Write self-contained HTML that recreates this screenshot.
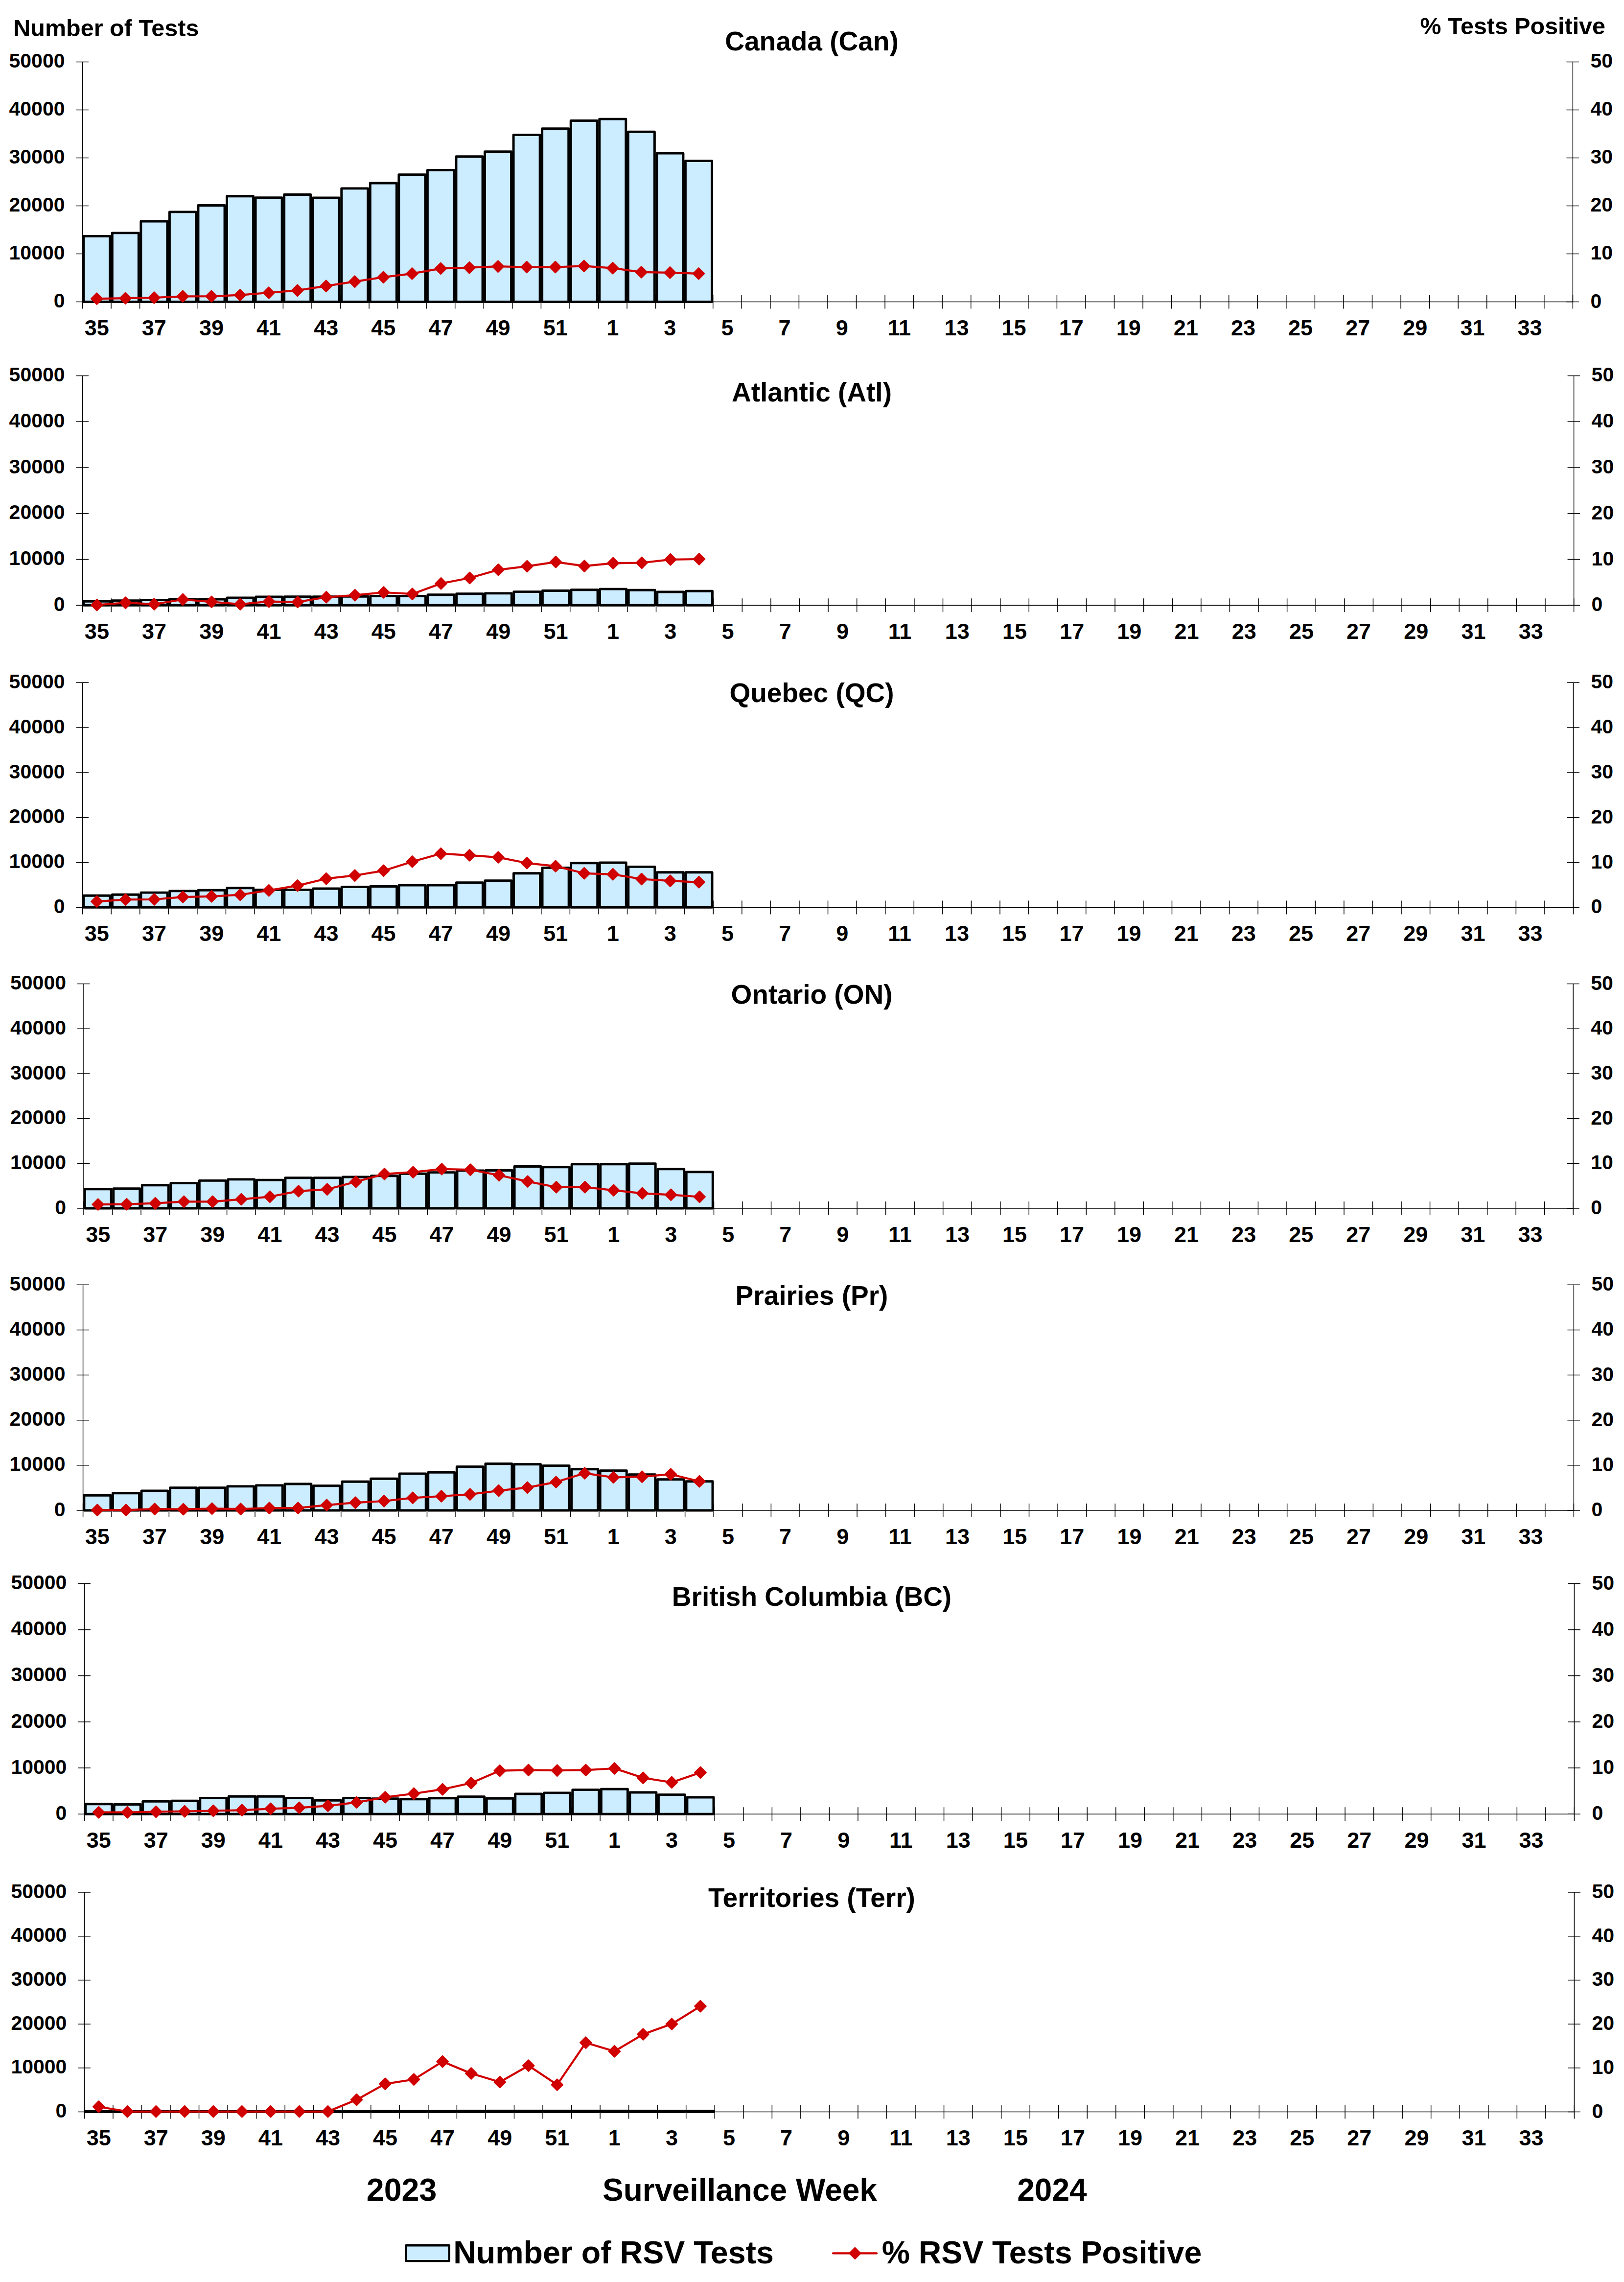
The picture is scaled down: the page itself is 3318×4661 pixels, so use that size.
<!DOCTYPE html>
<html><head><meta charset="utf-8"><title>RSV Tests by Region</title>
<style>
html,body{margin:0;padding:0;background:#fff;width:3318px;height:4661px;overflow:hidden}
svg text{font-family:"Liberation Sans", Arial, sans-serif;fill:#000}
</style></head><body>
<svg width="3318" height="4661" viewBox="0 0 3318 4661" style="display:block">
<rect width="3318" height="4661" fill="#fff"/>
<text x="27.3" y="73.8" font-size="48.5" font-weight="bold">Number of Tests</text>
<text x="2901.6" y="69.9" font-size="48.4" font-weight="bold">% Tests Positive</text>
<g><text x="1658.5" y="103.2" font-size="55" font-weight="bold" text-anchor="middle">Canada (Can)</text><path d="M168.5 126.4V616.5M3213.4 126.4V616.5M168.5 616.5H3213.4" stroke="#000" stroke-width="1.5" fill="none"/><path d="M155.5 616.5H181M3200.4 616.5H3225.9M155.5 518.48H181M3200.4 518.48H3225.9M155.5 420.46H181M3200.4 420.46H3225.9M155.5 322.44H181M3200.4 322.44H3225.9M155.5 224.42H181M3200.4 224.42H3225.9M155.5 126.4H181M3200.4 126.4H3225.9M168.5 602.5V630.5M227.06 602.5V630.5M285.61 602.5V630.5M344.17 602.5V630.5M402.72 602.5V630.5M461.28 602.5V630.5M519.83 602.5V630.5M578.39 602.5V630.5M636.95 602.5V630.5M695.5 602.5V630.5M754.06 602.5V630.5M812.61 602.5V630.5M871.17 602.5V630.5M929.73 602.5V630.5M988.28 602.5V630.5M1046.84 602.5V630.5M1105.39 602.5V630.5M1163.95 602.5V630.5M1222.5 602.5V630.5M1281.06 602.5V630.5M1339.62 602.5V630.5M1398.17 602.5V630.5M1456.73 602.5V630.5M1515.28 602.5V630.5M1573.84 602.5V630.5M1632.39 602.5V630.5M1690.95 602.5V630.5M1749.51 602.5V630.5M1808.06 602.5V630.5M1866.62 602.5V630.5M1925.17 602.5V630.5M1983.73 602.5V630.5M2042.28 602.5V630.5M2100.84 602.5V630.5M2159.4 602.5V630.5M2217.95 602.5V630.5M2276.51 602.5V630.5M2335.06 602.5V630.5M2393.62 602.5V630.5M2452.17 602.5V630.5M2510.73 602.5V630.5M2569.29 602.5V630.5M2627.84 602.5V630.5M2686.4 602.5V630.5M2744.95 602.5V630.5M2803.51 602.5V630.5M2862.07 602.5V630.5M2920.62 602.5V630.5M2979.18 602.5V630.5M3037.73 602.5V630.5M3096.29 602.5V630.5M3154.84 602.5V630.5M3213.4 602.5V630.5" stroke="#000" stroke-width="1.5" fill="none"/><text x="132.5" y="628.1" font-size="41" font-weight="bold" text-anchor="end">0</text><text x="3249.4" y="628.5" font-size="41" font-weight="bold">0</text><text x="132.5" y="530.08" font-size="41" font-weight="bold" text-anchor="end">10000</text><text x="3249.4" y="530.48" font-size="41" font-weight="bold">10</text><text x="132.5" y="432.06" font-size="41" font-weight="bold" text-anchor="end">20000</text><text x="3249.4" y="432.46" font-size="41" font-weight="bold">20</text><text x="132.5" y="334.04" font-size="41" font-weight="bold" text-anchor="end">30000</text><text x="3249.4" y="334.44" font-size="41" font-weight="bold">30</text><text x="132.5" y="236.02" font-size="41" font-weight="bold" text-anchor="end">40000</text><text x="3249.4" y="236.42" font-size="41" font-weight="bold">40</text><text x="132.5" y="138" font-size="41" font-weight="bold" text-anchor="end">50000</text><text x="3249.4" y="138.4" font-size="41" font-weight="bold">50</text><text x="197.78" y="685.3" font-size="45" font-weight="bold" text-anchor="middle">35</text><text x="314.89" y="685.3" font-size="45" font-weight="bold" text-anchor="middle">37</text><text x="432" y="685.3" font-size="45" font-weight="bold" text-anchor="middle">39</text><text x="549.11" y="685.3" font-size="45" font-weight="bold" text-anchor="middle">41</text><text x="666.22" y="685.3" font-size="45" font-weight="bold" text-anchor="middle">43</text><text x="783.34" y="685.3" font-size="45" font-weight="bold" text-anchor="middle">45</text><text x="900.45" y="685.3" font-size="45" font-weight="bold" text-anchor="middle">47</text><text x="1017.56" y="685.3" font-size="45" font-weight="bold" text-anchor="middle">49</text><text x="1134.67" y="685.3" font-size="45" font-weight="bold" text-anchor="middle">51</text><text x="1251.78" y="685.3" font-size="45" font-weight="bold" text-anchor="middle">1</text><text x="1368.89" y="685.3" font-size="45" font-weight="bold" text-anchor="middle">3</text><text x="1486" y="685.3" font-size="45" font-weight="bold" text-anchor="middle">5</text><text x="1603.12" y="685.3" font-size="45" font-weight="bold" text-anchor="middle">7</text><text x="1720.23" y="685.3" font-size="45" font-weight="bold" text-anchor="middle">9</text><text x="1837.34" y="685.3" font-size="45" font-weight="bold" text-anchor="middle">11</text><text x="1954.45" y="685.3" font-size="45" font-weight="bold" text-anchor="middle">13</text><text x="2071.56" y="685.3" font-size="45" font-weight="bold" text-anchor="middle">15</text><text x="2188.67" y="685.3" font-size="45" font-weight="bold" text-anchor="middle">17</text><text x="2305.79" y="685.3" font-size="45" font-weight="bold" text-anchor="middle">19</text><text x="2422.9" y="685.3" font-size="45" font-weight="bold" text-anchor="middle">21</text><text x="2540.01" y="685.3" font-size="45" font-weight="bold" text-anchor="middle">23</text><text x="2657.12" y="685.3" font-size="45" font-weight="bold" text-anchor="middle">25</text><text x="2774.23" y="685.3" font-size="45" font-weight="bold" text-anchor="middle">27</text><text x="2891.34" y="685.3" font-size="45" font-weight="bold" text-anchor="middle">29</text><text x="3008.45" y="685.3" font-size="45" font-weight="bold" text-anchor="middle">31</text><text x="3125.57" y="685.3" font-size="45" font-weight="bold" text-anchor="middle">33</text><rect x="170.75" y="482.4" width="54.06" height="134.1" fill="#CCECFF" stroke="#000" stroke-width="4.9" stroke-linejoin="round"/><rect x="229.31" y="475.9" width="54.06" height="140.6" fill="#CCECFF" stroke="#000" stroke-width="4.9" stroke-linejoin="round"/><rect x="287.86" y="452" width="54.06" height="164.5" fill="#CCECFF" stroke="#000" stroke-width="4.9" stroke-linejoin="round"/><rect x="346.42" y="432.9" width="54.06" height="183.6" fill="#CCECFF" stroke="#000" stroke-width="4.9" stroke-linejoin="round"/><rect x="404.97" y="419.5" width="54.06" height="197" fill="#CCECFF" stroke="#000" stroke-width="4.9" stroke-linejoin="round"/><rect x="463.53" y="400.8" width="54.06" height="215.7" fill="#CCECFF" stroke="#000" stroke-width="4.9" stroke-linejoin="round"/><rect x="522.08" y="403.6" width="54.06" height="212.9" fill="#CCECFF" stroke="#000" stroke-width="4.9" stroke-linejoin="round"/><rect x="580.64" y="397.5" width="54.06" height="219" fill="#CCECFF" stroke="#000" stroke-width="4.9" stroke-linejoin="round"/><rect x="639.2" y="404" width="54.06" height="212.5" fill="#CCECFF" stroke="#000" stroke-width="4.9" stroke-linejoin="round"/><rect x="697.75" y="384.9" width="54.06" height="231.6" fill="#CCECFF" stroke="#000" stroke-width="4.9" stroke-linejoin="round"/><rect x="756.31" y="374" width="54.06" height="242.5" fill="#CCECFF" stroke="#000" stroke-width="4.9" stroke-linejoin="round"/><rect x="814.86" y="356.6" width="54.06" height="259.9" fill="#CCECFF" stroke="#000" stroke-width="4.9" stroke-linejoin="round"/><rect x="873.42" y="347.4" width="54.06" height="269.1" fill="#CCECFF" stroke="#000" stroke-width="4.9" stroke-linejoin="round"/><rect x="931.98" y="319.8" width="54.06" height="296.7" fill="#CCECFF" stroke="#000" stroke-width="4.9" stroke-linejoin="round"/><rect x="990.53" y="309.7" width="54.06" height="306.8" fill="#CCECFF" stroke="#000" stroke-width="4.9" stroke-linejoin="round"/><rect x="1049.09" y="275.4" width="54.06" height="341.1" fill="#CCECFF" stroke="#000" stroke-width="4.9" stroke-linejoin="round"/><rect x="1107.64" y="262.8" width="54.06" height="353.7" fill="#CCECFF" stroke="#000" stroke-width="4.9" stroke-linejoin="round"/><rect x="1166.2" y="246.5" width="54.06" height="370" fill="#CCECFF" stroke="#000" stroke-width="4.9" stroke-linejoin="round"/><rect x="1224.75" y="243.1" width="54.06" height="373.4" fill="#CCECFF" stroke="#000" stroke-width="4.9" stroke-linejoin="round"/><rect x="1283.31" y="269.1" width="54.06" height="347.4" fill="#CCECFF" stroke="#000" stroke-width="4.9" stroke-linejoin="round"/><rect x="1341.87" y="313.1" width="54.06" height="303.4" fill="#CCECFF" stroke="#000" stroke-width="4.9" stroke-linejoin="round"/><rect x="1400.42" y="328.6" width="54.06" height="287.9" fill="#CCECFF" stroke="#000" stroke-width="4.9" stroke-linejoin="round"/><polyline points="197.78,610.1 256.33,609.1 314.89,608 373.45,605.3 432,605.1 490.56,602.6 549.11,598 607.67,593.2 666.22,584.2 724.78,575.2 783.34,566.2 841.89,558.9 900.45,548.4 959,546.7 1017.56,544.2 1076.11,545.5 1134.67,545.5 1193.23,543.4 1251.78,547.6 1310.34,555.9 1368.89,556.8 1427.45,558.9" fill="none" stroke="#D00000" stroke-width="4.2" stroke-linejoin="round"/><path d="M197.78 598.5L209.38 610.1L197.78 621.7L186.18 610.1ZM256.33 597.5L267.93 609.1L256.33 620.7L244.73 609.1ZM314.89 596.4L326.49 608L314.89 619.6L303.29 608ZM373.45 593.7L385.05 605.3L373.45 616.9L361.85 605.3ZM432 593.5L443.6 605.1L432 616.7L420.4 605.1ZM490.56 591L502.16 602.6L490.56 614.2L478.96 602.6ZM549.11 586.4L560.71 598L549.11 609.6L537.51 598ZM607.67 581.6L619.27 593.2L607.67 604.8L596.07 593.2ZM666.22 572.6L677.82 584.2L666.22 595.8L654.62 584.2ZM724.78 563.6L736.38 575.2L724.78 586.8L713.18 575.2ZM783.34 554.6L794.94 566.2L783.34 577.8L771.74 566.2ZM841.89 547.3L853.49 558.9L841.89 570.5L830.29 558.9ZM900.45 536.8L912.05 548.4L900.45 560L888.85 548.4ZM959 535.1L970.6 546.7L959 558.3L947.4 546.7ZM1017.56 532.6L1029.16 544.2L1017.56 555.8L1005.96 544.2ZM1076.11 533.9L1087.71 545.5L1076.11 557.1L1064.51 545.5ZM1134.67 533.9L1146.27 545.5L1134.67 557.1L1123.07 545.5ZM1193.23 531.8L1204.83 543.4L1193.23 555L1181.63 543.4ZM1251.78 536L1263.38 547.6L1251.78 559.2L1240.18 547.6ZM1310.34 544.3L1321.94 555.9L1310.34 567.5L1298.74 555.9ZM1368.89 545.2L1380.49 556.8L1368.89 568.4L1357.29 556.8ZM1427.45 547.3L1439.05 558.9L1427.45 570.5L1415.85 558.9Z" fill="#D00000" stroke="#D00000" stroke-width="2.4" stroke-linejoin="round"/></g>
<g><text x="1658.5" y="820.3" font-size="55" font-weight="bold" text-anchor="middle">Atlantic (Atl)</text><path d="M168.6 767.4V1236.3M3215.6 767.4V1236.3M168.6 1236.3H3215.6" stroke="#000" stroke-width="1.5" fill="none"/><path d="M155.6 1236.3H181.1M3202.6 1236.3H3228.1M155.6 1142.52H181.1M3202.6 1142.52H3228.1M155.6 1048.74H181.1M3202.6 1048.74H3228.1M155.6 954.96H181.1M3202.6 954.96H3228.1M155.6 861.18H181.1M3202.6 861.18H3228.1M155.6 767.4H181.1M3202.6 767.4H3228.1M168.6 1222.3V1250.3M227.2 1222.3V1250.3M285.79 1222.3V1250.3M344.39 1222.3V1250.3M402.98 1222.3V1250.3M461.58 1222.3V1250.3M520.18 1222.3V1250.3M578.77 1222.3V1250.3M637.37 1222.3V1250.3M695.97 1222.3V1250.3M754.56 1222.3V1250.3M813.16 1222.3V1250.3M871.75 1222.3V1250.3M930.35 1222.3V1250.3M988.95 1222.3V1250.3M1047.54 1222.3V1250.3M1106.14 1222.3V1250.3M1164.73 1222.3V1250.3M1223.33 1222.3V1250.3M1281.93 1222.3V1250.3M1340.52 1222.3V1250.3M1399.12 1222.3V1250.3M1457.72 1222.3V1250.3M1516.31 1222.3V1250.3M1574.91 1222.3V1250.3M1633.5 1222.3V1250.3M1692.1 1222.3V1250.3M1750.7 1222.3V1250.3M1809.29 1222.3V1250.3M1867.89 1222.3V1250.3M1926.48 1222.3V1250.3M1985.08 1222.3V1250.3M2043.68 1222.3V1250.3M2102.27 1222.3V1250.3M2160.87 1222.3V1250.3M2219.47 1222.3V1250.3M2278.06 1222.3V1250.3M2336.66 1222.3V1250.3M2395.25 1222.3V1250.3M2453.85 1222.3V1250.3M2512.45 1222.3V1250.3M2571.04 1222.3V1250.3M2629.64 1222.3V1250.3M2688.23 1222.3V1250.3M2746.83 1222.3V1250.3M2805.43 1222.3V1250.3M2864.02 1222.3V1250.3M2922.62 1222.3V1250.3M2981.22 1222.3V1250.3M3039.81 1222.3V1250.3M3098.41 1222.3V1250.3M3157 1222.3V1250.3M3215.6 1222.3V1250.3" stroke="#000" stroke-width="1.5" fill="none"/><text x="132.6" y="1247.9" font-size="41" font-weight="bold" text-anchor="end">0</text><text x="3251.6" y="1248.3" font-size="41" font-weight="bold">0</text><text x="132.6" y="1154.12" font-size="41" font-weight="bold" text-anchor="end">10000</text><text x="3251.6" y="1154.52" font-size="41" font-weight="bold">10</text><text x="132.6" y="1060.34" font-size="41" font-weight="bold" text-anchor="end">20000</text><text x="3251.6" y="1060.74" font-size="41" font-weight="bold">20</text><text x="132.6" y="966.56" font-size="41" font-weight="bold" text-anchor="end">30000</text><text x="3251.6" y="966.96" font-size="41" font-weight="bold">30</text><text x="132.6" y="872.78" font-size="41" font-weight="bold" text-anchor="end">40000</text><text x="3251.6" y="873.18" font-size="41" font-weight="bold">40</text><text x="132.6" y="779" font-size="41" font-weight="bold" text-anchor="end">50000</text><text x="3251.6" y="779.4" font-size="41" font-weight="bold">50</text><text x="197.9" y="1305.1" font-size="45" font-weight="bold" text-anchor="middle">35</text><text x="315.09" y="1305.1" font-size="45" font-weight="bold" text-anchor="middle">37</text><text x="432.28" y="1305.1" font-size="45" font-weight="bold" text-anchor="middle">39</text><text x="549.48" y="1305.1" font-size="45" font-weight="bold" text-anchor="middle">41</text><text x="666.67" y="1305.1" font-size="45" font-weight="bold" text-anchor="middle">43</text><text x="783.86" y="1305.1" font-size="45" font-weight="bold" text-anchor="middle">45</text><text x="901.05" y="1305.1" font-size="45" font-weight="bold" text-anchor="middle">47</text><text x="1018.24" y="1305.1" font-size="45" font-weight="bold" text-anchor="middle">49</text><text x="1135.44" y="1305.1" font-size="45" font-weight="bold" text-anchor="middle">51</text><text x="1252.63" y="1305.1" font-size="45" font-weight="bold" text-anchor="middle">1</text><text x="1369.82" y="1305.1" font-size="45" font-weight="bold" text-anchor="middle">3</text><text x="1487.01" y="1305.1" font-size="45" font-weight="bold" text-anchor="middle">5</text><text x="1604.21" y="1305.1" font-size="45" font-weight="bold" text-anchor="middle">7</text><text x="1721.4" y="1305.1" font-size="45" font-weight="bold" text-anchor="middle">9</text><text x="1838.59" y="1305.1" font-size="45" font-weight="bold" text-anchor="middle">11</text><text x="1955.78" y="1305.1" font-size="45" font-weight="bold" text-anchor="middle">13</text><text x="2072.97" y="1305.1" font-size="45" font-weight="bold" text-anchor="middle">15</text><text x="2190.17" y="1305.1" font-size="45" font-weight="bold" text-anchor="middle">17</text><text x="2307.36" y="1305.1" font-size="45" font-weight="bold" text-anchor="middle">19</text><text x="2424.55" y="1305.1" font-size="45" font-weight="bold" text-anchor="middle">21</text><text x="2541.74" y="1305.1" font-size="45" font-weight="bold" text-anchor="middle">23</text><text x="2658.94" y="1305.1" font-size="45" font-weight="bold" text-anchor="middle">25</text><text x="2776.13" y="1305.1" font-size="45" font-weight="bold" text-anchor="middle">27</text><text x="2893.32" y="1305.1" font-size="45" font-weight="bold" text-anchor="middle">29</text><text x="3010.51" y="1305.1" font-size="45" font-weight="bold" text-anchor="middle">31</text><text x="3127.71" y="1305.1" font-size="45" font-weight="bold" text-anchor="middle">33</text><rect x="170.85" y="1228.3" width="54.1" height="8" fill="#CCECFF" stroke="#000" stroke-width="4.9" stroke-linejoin="round"/><rect x="229.45" y="1226.6" width="54.1" height="9.7" fill="#CCECFF" stroke="#000" stroke-width="4.9" stroke-linejoin="round"/><rect x="288.04" y="1225.6" width="54.1" height="10.7" fill="#CCECFF" stroke="#000" stroke-width="4.9" stroke-linejoin="round"/><rect x="346.64" y="1223.9" width="54.1" height="12.4" fill="#CCECFF" stroke="#000" stroke-width="4.9" stroke-linejoin="round"/><rect x="405.23" y="1224.1" width="54.1" height="12.2" fill="#CCECFF" stroke="#000" stroke-width="4.9" stroke-linejoin="round"/><rect x="463.83" y="1221" width="54.1" height="15.3" fill="#CCECFF" stroke="#000" stroke-width="4.9" stroke-linejoin="round"/><rect x="522.43" y="1219" width="54.1" height="17.3" fill="#CCECFF" stroke="#000" stroke-width="4.9" stroke-linejoin="round"/><rect x="581.02" y="1218.6" width="54.1" height="17.7" fill="#CCECFF" stroke="#000" stroke-width="4.9" stroke-linejoin="round"/><rect x="639.62" y="1218.6" width="54.1" height="17.7" fill="#CCECFF" stroke="#000" stroke-width="4.9" stroke-linejoin="round"/><rect x="698.22" y="1218.2" width="54.1" height="18.1" fill="#CCECFF" stroke="#000" stroke-width="4.9" stroke-linejoin="round"/><rect x="756.81" y="1217.4" width="54.1" height="18.9" fill="#CCECFF" stroke="#000" stroke-width="4.9" stroke-linejoin="round"/><rect x="815.41" y="1217.4" width="54.1" height="18.9" fill="#CCECFF" stroke="#000" stroke-width="4.9" stroke-linejoin="round"/><rect x="874" y="1214.8" width="54.1" height="21.5" fill="#CCECFF" stroke="#000" stroke-width="4.9" stroke-linejoin="round"/><rect x="932.6" y="1212.7" width="54.1" height="23.6" fill="#CCECFF" stroke="#000" stroke-width="4.9" stroke-linejoin="round"/><rect x="991.2" y="1211.9" width="54.1" height="24.4" fill="#CCECFF" stroke="#000" stroke-width="4.9" stroke-linejoin="round"/><rect x="1049.79" y="1208.6" width="54.1" height="27.7" fill="#CCECFF" stroke="#000" stroke-width="4.9" stroke-linejoin="round"/><rect x="1108.39" y="1206.5" width="54.1" height="29.8" fill="#CCECFF" stroke="#000" stroke-width="4.9" stroke-linejoin="round"/><rect x="1166.98" y="1204.8" width="54.1" height="31.5" fill="#CCECFF" stroke="#000" stroke-width="4.9" stroke-linejoin="round"/><rect x="1225.58" y="1203.1" width="54.1" height="33.2" fill="#CCECFF" stroke="#000" stroke-width="4.9" stroke-linejoin="round"/><rect x="1284.18" y="1205.2" width="54.1" height="31.1" fill="#CCECFF" stroke="#000" stroke-width="4.9" stroke-linejoin="round"/><rect x="1342.77" y="1209" width="54.1" height="27.3" fill="#CCECFF" stroke="#000" stroke-width="4.9" stroke-linejoin="round"/><rect x="1401.37" y="1207.3" width="54.1" height="29" fill="#CCECFF" stroke="#000" stroke-width="4.9" stroke-linejoin="round"/><polyline points="197.9,1235.6 256.49,1231.2 315.09,1234 373.69,1224.5 432.28,1229.4 490.88,1234 549.48,1228.7 608.07,1229.6 666.67,1219.8 725.26,1215.7 783.86,1210 842.46,1213.2 901.05,1191.8 959.65,1180.5 1018.24,1163.8 1076.84,1156.6 1135.44,1147.8 1194.03,1156.2 1252.63,1150.4 1311.22,1149.5 1369.82,1142.8 1428.42,1142" fill="none" stroke="#D00000" stroke-width="4.2" stroke-linejoin="round"/><path d="M197.9 1224L209.5 1235.6L197.9 1247.2L186.3 1235.6ZM256.49 1219.6L268.09 1231.2L256.49 1242.8L244.89 1231.2ZM315.09 1222.4L326.69 1234L315.09 1245.6L303.49 1234ZM373.69 1212.9L385.29 1224.5L373.69 1236.1L362.09 1224.5ZM432.28 1217.8L443.88 1229.4L432.28 1241L420.68 1229.4ZM490.88 1222.4L502.48 1234L490.88 1245.6L479.28 1234ZM549.48 1217.1L561.08 1228.7L549.48 1240.3L537.88 1228.7ZM608.07 1218L619.67 1229.6L608.07 1241.2L596.47 1229.6ZM666.67 1208.2L678.27 1219.8L666.67 1231.4L655.07 1219.8ZM725.26 1204.1L736.86 1215.7L725.26 1227.3L713.66 1215.7ZM783.86 1198.4L795.46 1210L783.86 1221.6L772.26 1210ZM842.46 1201.6L854.06 1213.2L842.46 1224.8L830.86 1213.2ZM901.05 1180.2L912.65 1191.8L901.05 1203.4L889.45 1191.8ZM959.65 1168.9L971.25 1180.5L959.65 1192.1L948.05 1180.5ZM1018.24 1152.2L1029.84 1163.8L1018.24 1175.4L1006.64 1163.8ZM1076.84 1145L1088.44 1156.6L1076.84 1168.2L1065.24 1156.6ZM1135.44 1136.2L1147.04 1147.8L1135.44 1159.4L1123.84 1147.8ZM1194.03 1144.6L1205.63 1156.2L1194.03 1167.8L1182.43 1156.2ZM1252.63 1138.8L1264.23 1150.4L1252.63 1162L1241.03 1150.4ZM1311.22 1137.9L1322.82 1149.5L1311.22 1161.1L1299.62 1149.5ZM1369.82 1131.2L1381.42 1142.8L1369.82 1154.4L1358.22 1142.8ZM1428.42 1130.4L1440.02 1142L1428.42 1153.6L1416.82 1142Z" fill="#D00000" stroke="#D00000" stroke-width="2.4" stroke-linejoin="round"/></g>
<g><text x="1658.5" y="1434.2" font-size="55" font-weight="bold" text-anchor="middle">Quebec (QC)</text><path d="M168.6 1394.3V1853.4M3214.5 1394.3V1853.4M168.6 1853.4H3214.5" stroke="#000" stroke-width="1.5" fill="none"/><path d="M155.6 1853.4H181.1M3201.5 1853.4H3227M155.6 1761.58H181.1M3201.5 1761.58H3227M155.6 1669.76H181.1M3201.5 1669.76H3227M155.6 1577.94H181.1M3201.5 1577.94H3227M155.6 1486.12H181.1M3201.5 1486.12H3227M155.6 1394.3H181.1M3201.5 1394.3H3227M168.6 1839.4V1867.4M227.18 1839.4V1867.4M285.75 1839.4V1867.4M344.33 1839.4V1867.4M402.9 1839.4V1867.4M461.48 1839.4V1867.4M520.05 1839.4V1867.4M578.62 1839.4V1867.4M637.2 1839.4V1867.4M695.78 1839.4V1867.4M754.35 1839.4V1867.4M812.93 1839.4V1867.4M871.5 1839.4V1867.4M930.08 1839.4V1867.4M988.65 1839.4V1867.4M1047.22 1839.4V1867.4M1105.8 1839.4V1867.4M1164.38 1839.4V1867.4M1222.95 1839.4V1867.4M1281.52 1839.4V1867.4M1340.1 1839.4V1867.4M1398.67 1839.4V1867.4M1457.25 1839.4V1867.4M1515.83 1839.4V1867.4M1574.4 1839.4V1867.4M1632.97 1839.4V1867.4M1691.55 1839.4V1867.4M1750.12 1839.4V1867.4M1808.7 1839.4V1867.4M1867.28 1839.4V1867.4M1925.85 1839.4V1867.4M1984.42 1839.4V1867.4M2043 1839.4V1867.4M2101.58 1839.4V1867.4M2160.15 1839.4V1867.4M2218.72 1839.4V1867.4M2277.3 1839.4V1867.4M2335.88 1839.4V1867.4M2394.45 1839.4V1867.4M2453.03 1839.4V1867.4M2511.6 1839.4V1867.4M2570.18 1839.4V1867.4M2628.75 1839.4V1867.4M2687.32 1839.4V1867.4M2745.9 1839.4V1867.4M2804.47 1839.4V1867.4M2863.05 1839.4V1867.4M2921.62 1839.4V1867.4M2980.2 1839.4V1867.4M3038.78 1839.4V1867.4M3097.35 1839.4V1867.4M3155.93 1839.4V1867.4M3214.5 1839.4V1867.4" stroke="#000" stroke-width="1.5" fill="none"/><text x="132.6" y="1865" font-size="41" font-weight="bold" text-anchor="end">0</text><text x="3250.5" y="1865.4" font-size="41" font-weight="bold">0</text><text x="132.6" y="1773.18" font-size="41" font-weight="bold" text-anchor="end">10000</text><text x="3250.5" y="1773.58" font-size="41" font-weight="bold">10</text><text x="132.6" y="1681.36" font-size="41" font-weight="bold" text-anchor="end">20000</text><text x="3250.5" y="1681.76" font-size="41" font-weight="bold">20</text><text x="132.6" y="1589.54" font-size="41" font-weight="bold" text-anchor="end">30000</text><text x="3250.5" y="1589.94" font-size="41" font-weight="bold">30</text><text x="132.6" y="1497.72" font-size="41" font-weight="bold" text-anchor="end">40000</text><text x="3250.5" y="1498.12" font-size="41" font-weight="bold">40</text><text x="132.6" y="1405.9" font-size="41" font-weight="bold" text-anchor="end">50000</text><text x="3250.5" y="1406.3" font-size="41" font-weight="bold">50</text><text x="197.89" y="1922.2" font-size="45" font-weight="bold" text-anchor="middle">35</text><text x="315.04" y="1922.2" font-size="45" font-weight="bold" text-anchor="middle">37</text><text x="432.19" y="1922.2" font-size="45" font-weight="bold" text-anchor="middle">39</text><text x="549.34" y="1922.2" font-size="45" font-weight="bold" text-anchor="middle">41</text><text x="666.49" y="1922.2" font-size="45" font-weight="bold" text-anchor="middle">43</text><text x="783.64" y="1922.2" font-size="45" font-weight="bold" text-anchor="middle">45</text><text x="900.79" y="1922.2" font-size="45" font-weight="bold" text-anchor="middle">47</text><text x="1017.94" y="1922.2" font-size="45" font-weight="bold" text-anchor="middle">49</text><text x="1135.09" y="1922.2" font-size="45" font-weight="bold" text-anchor="middle">51</text><text x="1252.24" y="1922.2" font-size="45" font-weight="bold" text-anchor="middle">1</text><text x="1369.39" y="1922.2" font-size="45" font-weight="bold" text-anchor="middle">3</text><text x="1486.54" y="1922.2" font-size="45" font-weight="bold" text-anchor="middle">5</text><text x="1603.69" y="1922.2" font-size="45" font-weight="bold" text-anchor="middle">7</text><text x="1720.84" y="1922.2" font-size="45" font-weight="bold" text-anchor="middle">9</text><text x="1837.99" y="1922.2" font-size="45" font-weight="bold" text-anchor="middle">11</text><text x="1955.14" y="1922.2" font-size="45" font-weight="bold" text-anchor="middle">13</text><text x="2072.29" y="1922.2" font-size="45" font-weight="bold" text-anchor="middle">15</text><text x="2189.44" y="1922.2" font-size="45" font-weight="bold" text-anchor="middle">17</text><text x="2306.59" y="1922.2" font-size="45" font-weight="bold" text-anchor="middle">19</text><text x="2423.74" y="1922.2" font-size="45" font-weight="bold" text-anchor="middle">21</text><text x="2540.89" y="1922.2" font-size="45" font-weight="bold" text-anchor="middle">23</text><text x="2658.04" y="1922.2" font-size="45" font-weight="bold" text-anchor="middle">25</text><text x="2775.19" y="1922.2" font-size="45" font-weight="bold" text-anchor="middle">27</text><text x="2892.34" y="1922.2" font-size="45" font-weight="bold" text-anchor="middle">29</text><text x="3009.49" y="1922.2" font-size="45" font-weight="bold" text-anchor="middle">31</text><text x="3126.64" y="1922.2" font-size="45" font-weight="bold" text-anchor="middle">33</text><rect x="170.85" y="1829.2" width="54.08" height="24.2" fill="#CCECFF" stroke="#000" stroke-width="4.9" stroke-linejoin="round"/><rect x="229.43" y="1827.2" width="54.07" height="26.2" fill="#CCECFF" stroke="#000" stroke-width="4.9" stroke-linejoin="round"/><rect x="288" y="1823.1" width="54.08" height="30.3" fill="#CCECFF" stroke="#000" stroke-width="4.9" stroke-linejoin="round"/><rect x="346.58" y="1819.9" width="54.07" height="33.5" fill="#CCECFF" stroke="#000" stroke-width="4.9" stroke-linejoin="round"/><rect x="405.15" y="1818.3" width="54.08" height="35.1" fill="#CCECFF" stroke="#000" stroke-width="4.9" stroke-linejoin="round"/><rect x="463.73" y="1813.8" width="54.08" height="39.6" fill="#CCECFF" stroke="#000" stroke-width="4.9" stroke-linejoin="round"/><rect x="522.3" y="1817.4" width="54.07" height="36" fill="#CCECFF" stroke="#000" stroke-width="4.9" stroke-linejoin="round"/><rect x="580.88" y="1817.4" width="54.08" height="36" fill="#CCECFF" stroke="#000" stroke-width="4.9" stroke-linejoin="round"/><rect x="639.45" y="1815" width="54.08" height="38.4" fill="#CCECFF" stroke="#000" stroke-width="4.9" stroke-linejoin="round"/><rect x="698.03" y="1811.4" width="54.07" height="42" fill="#CCECFF" stroke="#000" stroke-width="4.9" stroke-linejoin="round"/><rect x="756.6" y="1810.5" width="54.08" height="42.9" fill="#CCECFF" stroke="#000" stroke-width="4.9" stroke-linejoin="round"/><rect x="815.18" y="1808" width="54.08" height="45.4" fill="#CCECFF" stroke="#000" stroke-width="4.9" stroke-linejoin="round"/><rect x="873.75" y="1808" width="54.07" height="45.4" fill="#CCECFF" stroke="#000" stroke-width="4.9" stroke-linejoin="round"/><rect x="932.33" y="1802.6" width="54.08" height="50.8" fill="#CCECFF" stroke="#000" stroke-width="4.9" stroke-linejoin="round"/><rect x="990.9" y="1798.8" width="54.07" height="54.6" fill="#CCECFF" stroke="#000" stroke-width="4.9" stroke-linejoin="round"/><rect x="1049.47" y="1783.8" width="54.08" height="69.6" fill="#CCECFF" stroke="#000" stroke-width="4.9" stroke-linejoin="round"/><rect x="1108.05" y="1772.4" width="54.08" height="81" fill="#CCECFF" stroke="#000" stroke-width="4.9" stroke-linejoin="round"/><rect x="1166.62" y="1762.8" width="54.08" height="90.6" fill="#CCECFF" stroke="#000" stroke-width="4.9" stroke-linejoin="round"/><rect x="1225.2" y="1762" width="54.07" height="91.4" fill="#CCECFF" stroke="#000" stroke-width="4.9" stroke-linejoin="round"/><rect x="1283.77" y="1770.4" width="54.08" height="83" fill="#CCECFF" stroke="#000" stroke-width="4.9" stroke-linejoin="round"/><rect x="1342.35" y="1781.7" width="54.08" height="71.7" fill="#CCECFF" stroke="#000" stroke-width="4.9" stroke-linejoin="round"/><rect x="1400.92" y="1781.7" width="54.08" height="71.7" fill="#CCECFF" stroke="#000" stroke-width="4.9" stroke-linejoin="round"/><polyline points="197.89,1841.4 256.46,1837.4 315.04,1837 373.61,1832.1 432.19,1830.9 490.76,1827.6 549.34,1818.7 607.91,1808.9 666.49,1794.7 725.06,1788.2 783.64,1778.4 842.21,1759.9 900.79,1743.6 959.36,1746.9 1017.94,1751.1 1076.51,1762.8 1135.09,1769.1 1193.66,1783.8 1252.24,1785.8 1310.81,1795.5 1369.39,1799.2 1427.96,1801.8" fill="none" stroke="#D00000" stroke-width="4.2" stroke-linejoin="round"/><path d="M197.89 1829.8L209.49 1841.4L197.89 1853L186.29 1841.4ZM256.46 1825.8L268.06 1837.4L256.46 1849L244.86 1837.4ZM315.04 1825.4L326.64 1837L315.04 1848.6L303.44 1837ZM373.61 1820.5L385.21 1832.1L373.61 1843.7L362.01 1832.1ZM432.19 1819.3L443.79 1830.9L432.19 1842.5L420.59 1830.9ZM490.76 1816L502.36 1827.6L490.76 1839.2L479.16 1827.6ZM549.34 1807.1L560.94 1818.7L549.34 1830.3L537.74 1818.7ZM607.91 1797.3L619.51 1808.9L607.91 1820.5L596.31 1808.9ZM666.49 1783.1L678.09 1794.7L666.49 1806.3L654.89 1794.7ZM725.06 1776.6L736.66 1788.2L725.06 1799.8L713.46 1788.2ZM783.64 1766.8L795.24 1778.4L783.64 1790L772.04 1778.4ZM842.21 1748.3L853.81 1759.9L842.21 1771.5L830.61 1759.9ZM900.79 1732L912.39 1743.6L900.79 1755.2L889.19 1743.6ZM959.36 1735.3L970.96 1746.9L959.36 1758.5L947.76 1746.9ZM1017.94 1739.5L1029.54 1751.1L1017.94 1762.7L1006.34 1751.1ZM1076.51 1751.2L1088.11 1762.8L1076.51 1774.4L1064.91 1762.8ZM1135.09 1757.5L1146.69 1769.1L1135.09 1780.7L1123.49 1769.1ZM1193.66 1772.2L1205.26 1783.8L1193.66 1795.4L1182.06 1783.8ZM1252.24 1774.2L1263.84 1785.8L1252.24 1797.4L1240.64 1785.8ZM1310.81 1783.9L1322.41 1795.5L1310.81 1807.1L1299.21 1795.5ZM1369.39 1787.6L1380.99 1799.2L1369.39 1810.8L1357.79 1799.2ZM1427.96 1790.2L1439.56 1801.8L1427.96 1813.4L1416.36 1801.8Z" fill="#D00000" stroke="#D00000" stroke-width="2.4" stroke-linejoin="round"/></g>
<g><text x="1658.5" y="2049.6" font-size="55" font-weight="bold" text-anchor="middle">Ontario (ON)</text><path d="M171 2009.6V2468M3214.2 2009.6V2468M171 2468H3214.2" stroke="#000" stroke-width="1.5" fill="none"/><path d="M158 2468H183.5M3201.2 2468H3226.7M158 2376.32H183.5M3201.2 2376.32H3226.7M158 2284.64H183.5M3201.2 2284.64H3226.7M158 2192.96H183.5M3201.2 2192.96H3226.7M158 2101.28H183.5M3201.2 2101.28H3226.7M158 2009.6H183.5M3201.2 2009.6H3226.7M171 2454V2482M229.52 2454V2482M288.05 2454V2482M346.57 2454V2482M405.09 2454V2482M463.62 2454V2482M522.14 2454V2482M580.66 2454V2482M639.18 2454V2482M697.71 2454V2482M756.23 2454V2482M814.75 2454V2482M873.28 2454V2482M931.8 2454V2482M990.32 2454V2482M1048.85 2454V2482M1107.37 2454V2482M1165.89 2454V2482M1224.42 2454V2482M1282.94 2454V2482M1341.46 2454V2482M1399.98 2454V2482M1458.51 2454V2482M1517.03 2454V2482M1575.55 2454V2482M1634.08 2454V2482M1692.6 2454V2482M1751.12 2454V2482M1809.65 2454V2482M1868.17 2454V2482M1926.69 2454V2482M1985.22 2454V2482M2043.74 2454V2482M2102.26 2454V2482M2160.78 2454V2482M2219.31 2454V2482M2277.83 2454V2482M2336.35 2454V2482M2394.88 2454V2482M2453.4 2454V2482M2511.92 2454V2482M2570.45 2454V2482M2628.97 2454V2482M2687.49 2454V2482M2746.02 2454V2482M2804.54 2454V2482M2863.06 2454V2482M2921.58 2454V2482M2980.11 2454V2482M3038.63 2454V2482M3097.15 2454V2482M3155.68 2454V2482M3214.2 2454V2482" stroke="#000" stroke-width="1.5" fill="none"/><text x="135" y="2479.6" font-size="41" font-weight="bold" text-anchor="end">0</text><text x="3250.2" y="2480" font-size="41" font-weight="bold">0</text><text x="135" y="2387.92" font-size="41" font-weight="bold" text-anchor="end">10000</text><text x="3250.2" y="2388.32" font-size="41" font-weight="bold">10</text><text x="135" y="2296.24" font-size="41" font-weight="bold" text-anchor="end">20000</text><text x="3250.2" y="2296.64" font-size="41" font-weight="bold">20</text><text x="135" y="2204.56" font-size="41" font-weight="bold" text-anchor="end">30000</text><text x="3250.2" y="2204.96" font-size="41" font-weight="bold">30</text><text x="135" y="2112.88" font-size="41" font-weight="bold" text-anchor="end">40000</text><text x="3250.2" y="2113.28" font-size="41" font-weight="bold">40</text><text x="135" y="2021.2" font-size="41" font-weight="bold" text-anchor="end">50000</text><text x="3250.2" y="2021.6" font-size="41" font-weight="bold">50</text><text x="200.26" y="2536.8" font-size="45" font-weight="bold" text-anchor="middle">35</text><text x="317.31" y="2536.8" font-size="45" font-weight="bold" text-anchor="middle">37</text><text x="434.35" y="2536.8" font-size="45" font-weight="bold" text-anchor="middle">39</text><text x="551.4" y="2536.8" font-size="45" font-weight="bold" text-anchor="middle">41</text><text x="668.45" y="2536.8" font-size="45" font-weight="bold" text-anchor="middle">43</text><text x="785.49" y="2536.8" font-size="45" font-weight="bold" text-anchor="middle">45</text><text x="902.54" y="2536.8" font-size="45" font-weight="bold" text-anchor="middle">47</text><text x="1019.58" y="2536.8" font-size="45" font-weight="bold" text-anchor="middle">49</text><text x="1136.63" y="2536.8" font-size="45" font-weight="bold" text-anchor="middle">51</text><text x="1253.68" y="2536.8" font-size="45" font-weight="bold" text-anchor="middle">1</text><text x="1370.72" y="2536.8" font-size="45" font-weight="bold" text-anchor="middle">3</text><text x="1487.77" y="2536.8" font-size="45" font-weight="bold" text-anchor="middle">5</text><text x="1604.82" y="2536.8" font-size="45" font-weight="bold" text-anchor="middle">7</text><text x="1721.86" y="2536.8" font-size="45" font-weight="bold" text-anchor="middle">9</text><text x="1838.91" y="2536.8" font-size="45" font-weight="bold" text-anchor="middle">11</text><text x="1955.95" y="2536.8" font-size="45" font-weight="bold" text-anchor="middle">13</text><text x="2073" y="2536.8" font-size="45" font-weight="bold" text-anchor="middle">15</text><text x="2190.05" y="2536.8" font-size="45" font-weight="bold" text-anchor="middle">17</text><text x="2307.09" y="2536.8" font-size="45" font-weight="bold" text-anchor="middle">19</text><text x="2424.14" y="2536.8" font-size="45" font-weight="bold" text-anchor="middle">21</text><text x="2541.18" y="2536.8" font-size="45" font-weight="bold" text-anchor="middle">23</text><text x="2658.23" y="2536.8" font-size="45" font-weight="bold" text-anchor="middle">25</text><text x="2775.28" y="2536.8" font-size="45" font-weight="bold" text-anchor="middle">27</text><text x="2892.32" y="2536.8" font-size="45" font-weight="bold" text-anchor="middle">29</text><text x="3009.37" y="2536.8" font-size="45" font-weight="bold" text-anchor="middle">31</text><text x="3126.42" y="2536.8" font-size="45" font-weight="bold" text-anchor="middle">33</text><rect x="173.25" y="2428.8" width="54.02" height="39.2" fill="#CCECFF" stroke="#000" stroke-width="4.9" stroke-linejoin="round"/><rect x="231.77" y="2427.6" width="54.02" height="40.4" fill="#CCECFF" stroke="#000" stroke-width="4.9" stroke-linejoin="round"/><rect x="290.3" y="2420.7" width="54.02" height="47.3" fill="#CCECFF" stroke="#000" stroke-width="4.9" stroke-linejoin="round"/><rect x="348.82" y="2416.6" width="54.02" height="51.4" fill="#CCECFF" stroke="#000" stroke-width="4.9" stroke-linejoin="round"/><rect x="407.34" y="2411.4" width="54.02" height="56.6" fill="#CCECFF" stroke="#000" stroke-width="4.9" stroke-linejoin="round"/><rect x="465.87" y="2408.9" width="54.02" height="59.1" fill="#CCECFF" stroke="#000" stroke-width="4.9" stroke-linejoin="round"/><rect x="524.39" y="2410.1" width="54.02" height="57.9" fill="#CCECFF" stroke="#000" stroke-width="4.9" stroke-linejoin="round"/><rect x="582.91" y="2405.7" width="54.02" height="62.3" fill="#CCECFF" stroke="#000" stroke-width="4.9" stroke-linejoin="round"/><rect x="641.43" y="2405.7" width="54.02" height="62.3" fill="#CCECFF" stroke="#000" stroke-width="4.9" stroke-linejoin="round"/><rect x="699.96" y="2404" width="54.02" height="64" fill="#CCECFF" stroke="#000" stroke-width="4.9" stroke-linejoin="round"/><rect x="758.48" y="2401.7" width="54.02" height="66.3" fill="#CCECFF" stroke="#000" stroke-width="4.9" stroke-linejoin="round"/><rect x="817" y="2397.2" width="54.02" height="70.8" fill="#CCECFF" stroke="#000" stroke-width="4.9" stroke-linejoin="round"/><rect x="875.53" y="2394.6" width="54.02" height="73.4" fill="#CCECFF" stroke="#000" stroke-width="4.9" stroke-linejoin="round"/><rect x="934.05" y="2390.9" width="54.02" height="77.1" fill="#CCECFF" stroke="#000" stroke-width="4.9" stroke-linejoin="round"/><rect x="992.57" y="2390.5" width="54.02" height="77.5" fill="#CCECFF" stroke="#000" stroke-width="4.9" stroke-linejoin="round"/><rect x="1051.1" y="2382.5" width="54.02" height="85.5" fill="#CCECFF" stroke="#000" stroke-width="4.9" stroke-linejoin="round"/><rect x="1109.62" y="2383.8" width="54.02" height="84.2" fill="#CCECFF" stroke="#000" stroke-width="4.9" stroke-linejoin="round"/><rect x="1168.14" y="2377.9" width="54.02" height="90.1" fill="#CCECFF" stroke="#000" stroke-width="4.9" stroke-linejoin="round"/><rect x="1226.67" y="2377.9" width="54.02" height="90.1" fill="#CCECFF" stroke="#000" stroke-width="4.9" stroke-linejoin="round"/><rect x="1285.19" y="2376.6" width="54.02" height="91.4" fill="#CCECFF" stroke="#000" stroke-width="4.9" stroke-linejoin="round"/><rect x="1343.71" y="2387.9" width="54.02" height="80.1" fill="#CCECFF" stroke="#000" stroke-width="4.9" stroke-linejoin="round"/><rect x="1402.23" y="2393.8" width="54.02" height="74.2" fill="#CCECFF" stroke="#000" stroke-width="4.9" stroke-linejoin="round"/><polyline points="200.26,2460.1 258.78,2459.7 317.31,2457.7 375.83,2454.4 434.35,2454.4 492.88,2449.6 551.4,2444.3 609.92,2432.9 668.45,2429.2 726.97,2413.8 785.49,2397.9 844.02,2394.2 902.54,2387.9 961.06,2389.2 1019.58,2400.5 1078.11,2413.1 1136.63,2424.8 1195.15,2424.8 1253.68,2431.1 1312.2,2437.4 1370.72,2440.3 1429.25,2444.5" fill="none" stroke="#D00000" stroke-width="4.2" stroke-linejoin="round"/><path d="M200.26 2448.5L211.86 2460.1L200.26 2471.7L188.66 2460.1ZM258.78 2448.1L270.38 2459.7L258.78 2471.3L247.18 2459.7ZM317.31 2446.1L328.91 2457.7L317.31 2469.3L305.71 2457.7ZM375.83 2442.8L387.43 2454.4L375.83 2466L364.23 2454.4ZM434.35 2442.8L445.95 2454.4L434.35 2466L422.75 2454.4ZM492.88 2438L504.48 2449.6L492.88 2461.2L481.28 2449.6ZM551.4 2432.7L563 2444.3L551.4 2455.9L539.8 2444.3ZM609.92 2421.3L621.52 2432.9L609.92 2444.5L598.32 2432.9ZM668.45 2417.6L680.05 2429.2L668.45 2440.8L656.85 2429.2ZM726.97 2402.2L738.57 2413.8L726.97 2425.4L715.37 2413.8ZM785.49 2386.3L797.09 2397.9L785.49 2409.5L773.89 2397.9ZM844.02 2382.6L855.62 2394.2L844.02 2405.8L832.42 2394.2ZM902.54 2376.3L914.14 2387.9L902.54 2399.5L890.94 2387.9ZM961.06 2377.6L972.66 2389.2L961.06 2400.8L949.46 2389.2ZM1019.58 2388.9L1031.18 2400.5L1019.58 2412.1L1007.98 2400.5ZM1078.11 2401.5L1089.71 2413.1L1078.11 2424.7L1066.51 2413.1ZM1136.63 2413.2L1148.23 2424.8L1136.63 2436.4L1125.03 2424.8ZM1195.15 2413.2L1206.75 2424.8L1195.15 2436.4L1183.55 2424.8ZM1253.68 2419.5L1265.28 2431.1L1253.68 2442.7L1242.08 2431.1ZM1312.2 2425.8L1323.8 2437.4L1312.2 2449L1300.6 2437.4ZM1370.72 2428.7L1382.32 2440.3L1370.72 2451.9L1359.12 2440.3ZM1429.25 2432.9L1440.85 2444.5L1429.25 2456.1L1417.65 2444.5Z" fill="#D00000" stroke="#D00000" stroke-width="2.4" stroke-linejoin="round"/></g>
<g><text x="1658.5" y="2665.3" font-size="55" font-weight="bold" text-anchor="middle">Prairies (Pr)</text><path d="M169.6 2624.3V3085M3215.4 2624.3V3085M169.6 3085H3215.4" stroke="#000" stroke-width="1.5" fill="none"/><path d="M156.6 3085H182.1M3202.4 3085H3227.9M156.6 2992.86H182.1M3202.4 2992.86H3227.9M156.6 2900.72H182.1M3202.4 2900.72H3227.9M156.6 2808.58H182.1M3202.4 2808.58H3227.9M156.6 2716.44H182.1M3202.4 2716.44H3227.9M156.6 2624.3H182.1M3202.4 2624.3H3227.9M169.6 3071V3099M228.17 3071V3099M286.75 3071V3099M345.32 3071V3099M403.89 3071V3099M462.47 3071V3099M521.04 3071V3099M579.61 3071V3099M638.18 3071V3099M696.76 3071V3099M755.33 3071V3099M813.9 3071V3099M872.48 3071V3099M931.05 3071V3099M989.62 3071V3099M1048.2 3071V3099M1106.77 3071V3099M1165.34 3071V3099M1223.92 3071V3099M1282.49 3071V3099M1341.06 3071V3099M1399.63 3071V3099M1458.21 3071V3099M1516.78 3071V3099M1575.35 3071V3099M1633.93 3071V3099M1692.5 3071V3099M1751.07 3071V3099M1809.65 3071V3099M1868.22 3071V3099M1926.79 3071V3099M1985.37 3071V3099M2043.94 3071V3099M2102.51 3071V3099M2161.08 3071V3099M2219.66 3071V3099M2278.23 3071V3099M2336.8 3071V3099M2395.38 3071V3099M2453.95 3071V3099M2512.52 3071V3099M2571.1 3071V3099M2629.67 3071V3099M2688.24 3071V3099M2746.82 3071V3099M2805.39 3071V3099M2863.96 3071V3099M2922.53 3071V3099M2981.11 3071V3099M3039.68 3071V3099M3098.25 3071V3099M3156.83 3071V3099M3215.4 3071V3099" stroke="#000" stroke-width="1.5" fill="none"/><text x="133.6" y="3096.6" font-size="41" font-weight="bold" text-anchor="end">0</text><text x="3251.4" y="3097" font-size="41" font-weight="bold">0</text><text x="133.6" y="3004.46" font-size="41" font-weight="bold" text-anchor="end">10000</text><text x="3251.4" y="3004.86" font-size="41" font-weight="bold">10</text><text x="133.6" y="2912.32" font-size="41" font-weight="bold" text-anchor="end">20000</text><text x="3251.4" y="2912.72" font-size="41" font-weight="bold">20</text><text x="133.6" y="2820.18" font-size="41" font-weight="bold" text-anchor="end">30000</text><text x="3251.4" y="2820.58" font-size="41" font-weight="bold">30</text><text x="133.6" y="2728.04" font-size="41" font-weight="bold" text-anchor="end">40000</text><text x="3251.4" y="2728.44" font-size="41" font-weight="bold">40</text><text x="133.6" y="2635.9" font-size="41" font-weight="bold" text-anchor="end">50000</text><text x="3251.4" y="2636.3" font-size="41" font-weight="bold">50</text><text x="198.89" y="3153.8" font-size="45" font-weight="bold" text-anchor="middle">35</text><text x="316.03" y="3153.8" font-size="45" font-weight="bold" text-anchor="middle">37</text><text x="433.18" y="3153.8" font-size="45" font-weight="bold" text-anchor="middle">39</text><text x="550.33" y="3153.8" font-size="45" font-weight="bold" text-anchor="middle">41</text><text x="667.47" y="3153.8" font-size="45" font-weight="bold" text-anchor="middle">43</text><text x="784.62" y="3153.8" font-size="45" font-weight="bold" text-anchor="middle">45</text><text x="901.76" y="3153.8" font-size="45" font-weight="bold" text-anchor="middle">47</text><text x="1018.91" y="3153.8" font-size="45" font-weight="bold" text-anchor="middle">49</text><text x="1136.06" y="3153.8" font-size="45" font-weight="bold" text-anchor="middle">51</text><text x="1253.2" y="3153.8" font-size="45" font-weight="bold" text-anchor="middle">1</text><text x="1370.35" y="3153.8" font-size="45" font-weight="bold" text-anchor="middle">3</text><text x="1487.49" y="3153.8" font-size="45" font-weight="bold" text-anchor="middle">5</text><text x="1604.64" y="3153.8" font-size="45" font-weight="bold" text-anchor="middle">7</text><text x="1721.79" y="3153.8" font-size="45" font-weight="bold" text-anchor="middle">9</text><text x="1838.93" y="3153.8" font-size="45" font-weight="bold" text-anchor="middle">11</text><text x="1956.08" y="3153.8" font-size="45" font-weight="bold" text-anchor="middle">13</text><text x="2073.22" y="3153.8" font-size="45" font-weight="bold" text-anchor="middle">15</text><text x="2190.37" y="3153.8" font-size="45" font-weight="bold" text-anchor="middle">17</text><text x="2307.52" y="3153.8" font-size="45" font-weight="bold" text-anchor="middle">19</text><text x="2424.66" y="3153.8" font-size="45" font-weight="bold" text-anchor="middle">21</text><text x="2541.81" y="3153.8" font-size="45" font-weight="bold" text-anchor="middle">23</text><text x="2658.96" y="3153.8" font-size="45" font-weight="bold" text-anchor="middle">25</text><text x="2776.1" y="3153.8" font-size="45" font-weight="bold" text-anchor="middle">27</text><text x="2893.25" y="3153.8" font-size="45" font-weight="bold" text-anchor="middle">29</text><text x="3010.39" y="3153.8" font-size="45" font-weight="bold" text-anchor="middle">31</text><text x="3127.54" y="3153.8" font-size="45" font-weight="bold" text-anchor="middle">33</text><rect x="171.85" y="3054.2" width="54.07" height="30.8" fill="#CCECFF" stroke="#000" stroke-width="4.9" stroke-linejoin="round"/><rect x="230.42" y="3049.7" width="54.07" height="35.3" fill="#CCECFF" stroke="#000" stroke-width="4.9" stroke-linejoin="round"/><rect x="289" y="3044.9" width="54.07" height="40.1" fill="#CCECFF" stroke="#000" stroke-width="4.9" stroke-linejoin="round"/><rect x="347.57" y="3038.8" width="54.07" height="46.2" fill="#CCECFF" stroke="#000" stroke-width="4.9" stroke-linejoin="round"/><rect x="406.14" y="3038.8" width="54.07" height="46.2" fill="#CCECFF" stroke="#000" stroke-width="4.9" stroke-linejoin="round"/><rect x="464.72" y="3035.9" width="54.07" height="49.1" fill="#CCECFF" stroke="#000" stroke-width="4.9" stroke-linejoin="round"/><rect x="523.29" y="3033.9" width="54.07" height="51.1" fill="#CCECFF" stroke="#000" stroke-width="4.9" stroke-linejoin="round"/><rect x="581.86" y="3031" width="54.07" height="54" fill="#CCECFF" stroke="#000" stroke-width="4.9" stroke-linejoin="round"/><rect x="640.43" y="3034.7" width="54.07" height="50.3" fill="#CCECFF" stroke="#000" stroke-width="4.9" stroke-linejoin="round"/><rect x="699.01" y="3026.2" width="54.07" height="58.8" fill="#CCECFF" stroke="#000" stroke-width="4.9" stroke-linejoin="round"/><rect x="757.58" y="3020.2" width="54.07" height="64.8" fill="#CCECFF" stroke="#000" stroke-width="4.9" stroke-linejoin="round"/><rect x="816.15" y="3009.9" width="54.07" height="75.1" fill="#CCECFF" stroke="#000" stroke-width="4.9" stroke-linejoin="round"/><rect x="874.73" y="3007.4" width="54.07" height="77.6" fill="#CCECFF" stroke="#000" stroke-width="4.9" stroke-linejoin="round"/><rect x="933.3" y="2995.7" width="54.07" height="89.3" fill="#CCECFF" stroke="#000" stroke-width="4.9" stroke-linejoin="round"/><rect x="991.87" y="2989.8" width="54.07" height="95.2" fill="#CCECFF" stroke="#000" stroke-width="4.9" stroke-linejoin="round"/><rect x="1050.45" y="2990.7" width="54.07" height="94.3" fill="#CCECFF" stroke="#000" stroke-width="4.9" stroke-linejoin="round"/><rect x="1109.02" y="2993.6" width="54.07" height="91.4" fill="#CCECFF" stroke="#000" stroke-width="4.9" stroke-linejoin="round"/><rect x="1167.59" y="3000.7" width="54.07" height="84.3" fill="#CCECFF" stroke="#000" stroke-width="4.9" stroke-linejoin="round"/><rect x="1226.17" y="3003.7" width="54.07" height="81.3" fill="#CCECFF" stroke="#000" stroke-width="4.9" stroke-linejoin="round"/><rect x="1284.74" y="3011.6" width="54.07" height="73.4" fill="#CCECFF" stroke="#000" stroke-width="4.9" stroke-linejoin="round"/><rect x="1343.31" y="3021.7" width="54.07" height="63.3" fill="#CCECFF" stroke="#000" stroke-width="4.9" stroke-linejoin="round"/><rect x="1401.88" y="3025.8" width="54.07" height="59.2" fill="#CCECFF" stroke="#000" stroke-width="4.9" stroke-linejoin="round"/><polyline points="198.89,3084.3 257.46,3084.3 316.03,3082.2 374.61,3082.6 433.18,3081.4 491.75,3082.2 550.33,3080.2 608.9,3080.2 667.47,3074.1 726.04,3069.2 784.62,3066 843.19,3059.3 901.76,3056 960.34,3052.2 1018.91,3044.7 1077.48,3038.4 1136.06,3027.1 1194.63,3009.1 1253.2,3017.5 1311.77,3016.2 1370.35,3011.2 1428.92,3025.8" fill="none" stroke="#D00000" stroke-width="4.2" stroke-linejoin="round"/><path d="M198.89 3072.7L210.49 3084.3L198.89 3095.9L187.29 3084.3ZM257.46 3072.7L269.06 3084.3L257.46 3095.9L245.86 3084.3ZM316.03 3070.6L327.63 3082.2L316.03 3093.8L304.43 3082.2ZM374.61 3071L386.21 3082.6L374.61 3094.2L363.01 3082.6ZM433.18 3069.8L444.78 3081.4L433.18 3093L421.58 3081.4ZM491.75 3070.6L503.35 3082.2L491.75 3093.8L480.15 3082.2ZM550.33 3068.6L561.93 3080.2L550.33 3091.8L538.73 3080.2ZM608.9 3068.6L620.5 3080.2L608.9 3091.8L597.3 3080.2ZM667.47 3062.5L679.07 3074.1L667.47 3085.7L655.87 3074.1ZM726.04 3057.6L737.64 3069.2L726.04 3080.8L714.44 3069.2ZM784.62 3054.4L796.22 3066L784.62 3077.6L773.02 3066ZM843.19 3047.7L854.79 3059.3L843.19 3070.9L831.59 3059.3ZM901.76 3044.4L913.36 3056L901.76 3067.6L890.16 3056ZM960.34 3040.6L971.94 3052.2L960.34 3063.8L948.74 3052.2ZM1018.91 3033.1L1030.51 3044.7L1018.91 3056.3L1007.31 3044.7ZM1077.48 3026.8L1089.08 3038.4L1077.48 3050L1065.88 3038.4ZM1136.06 3015.5L1147.66 3027.1L1136.06 3038.7L1124.46 3027.1ZM1194.63 2997.5L1206.23 3009.1L1194.63 3020.7L1183.03 3009.1ZM1253.2 3005.9L1264.8 3017.5L1253.2 3029.1L1241.6 3017.5ZM1311.77 3004.6L1323.37 3016.2L1311.77 3027.8L1300.17 3016.2ZM1370.35 2999.6L1381.95 3011.2L1370.35 3022.8L1358.75 3011.2ZM1428.92 3014.2L1440.52 3025.8L1428.92 3037.4L1417.32 3025.8Z" fill="#D00000" stroke="#D00000" stroke-width="2.4" stroke-linejoin="round"/></g>
<g><text x="1658.5" y="3279.9" font-size="55" font-weight="bold" text-anchor="middle">British Columbia (BC)</text><path d="M172.4 3234.5V3705.2M3216.4 3234.5V3705.2M172.4 3705.2H3216.4" stroke="#000" stroke-width="1.5" fill="none"/><path d="M159.4 3705.2H184.9M3203.4 3705.2H3228.9M159.4 3611.06H184.9M3203.4 3611.06H3228.9M159.4 3516.92H184.9M3203.4 3516.92H3228.9M159.4 3422.78H184.9M3203.4 3422.78H3228.9M159.4 3328.64H184.9M3203.4 3328.64H3228.9M159.4 3234.5H184.9M3203.4 3234.5H3228.9M172.4 3691.2V3719.2M230.94 3691.2V3719.2M289.48 3691.2V3719.2M348.02 3691.2V3719.2M406.55 3691.2V3719.2M465.09 3691.2V3719.2M523.63 3691.2V3719.2M582.17 3691.2V3719.2M640.71 3691.2V3719.2M699.25 3691.2V3719.2M757.78 3691.2V3719.2M816.32 3691.2V3719.2M874.86 3691.2V3719.2M933.4 3691.2V3719.2M991.94 3691.2V3719.2M1050.48 3691.2V3719.2M1109.02 3691.2V3719.2M1167.55 3691.2V3719.2M1226.09 3691.2V3719.2M1284.63 3691.2V3719.2M1343.17 3691.2V3719.2M1401.71 3691.2V3719.2M1460.25 3691.2V3719.2M1518.78 3691.2V3719.2M1577.32 3691.2V3719.2M1635.86 3691.2V3719.2M1694.4 3691.2V3719.2M1752.94 3691.2V3719.2M1811.48 3691.2V3719.2M1870.02 3691.2V3719.2M1928.55 3691.2V3719.2M1987.09 3691.2V3719.2M2045.63 3691.2V3719.2M2104.17 3691.2V3719.2M2162.71 3691.2V3719.2M2221.25 3691.2V3719.2M2279.78 3691.2V3719.2M2338.32 3691.2V3719.2M2396.86 3691.2V3719.2M2455.4 3691.2V3719.2M2513.94 3691.2V3719.2M2572.48 3691.2V3719.2M2631.02 3691.2V3719.2M2689.55 3691.2V3719.2M2748.09 3691.2V3719.2M2806.63 3691.2V3719.2M2865.17 3691.2V3719.2M2923.71 3691.2V3719.2M2982.25 3691.2V3719.2M3040.78 3691.2V3719.2M3099.32 3691.2V3719.2M3157.86 3691.2V3719.2M3216.4 3691.2V3719.2" stroke="#000" stroke-width="1.5" fill="none"/><text x="136.4" y="3716.8" font-size="41" font-weight="bold" text-anchor="end">0</text><text x="3252.4" y="3717.2" font-size="41" font-weight="bold">0</text><text x="136.4" y="3622.66" font-size="41" font-weight="bold" text-anchor="end">10000</text><text x="3252.4" y="3623.06" font-size="41" font-weight="bold">10</text><text x="136.4" y="3528.52" font-size="41" font-weight="bold" text-anchor="end">20000</text><text x="3252.4" y="3528.92" font-size="41" font-weight="bold">20</text><text x="136.4" y="3434.38" font-size="41" font-weight="bold" text-anchor="end">30000</text><text x="3252.4" y="3434.78" font-size="41" font-weight="bold">30</text><text x="136.4" y="3340.24" font-size="41" font-weight="bold" text-anchor="end">40000</text><text x="3252.4" y="3340.64" font-size="41" font-weight="bold">40</text><text x="136.4" y="3246.1" font-size="41" font-weight="bold" text-anchor="end">50000</text><text x="3252.4" y="3246.5" font-size="41" font-weight="bold">50</text><text x="201.67" y="3774" font-size="45" font-weight="bold" text-anchor="middle">35</text><text x="318.75" y="3774" font-size="45" font-weight="bold" text-anchor="middle">37</text><text x="435.82" y="3774" font-size="45" font-weight="bold" text-anchor="middle">39</text><text x="552.9" y="3774" font-size="45" font-weight="bold" text-anchor="middle">41</text><text x="669.98" y="3774" font-size="45" font-weight="bold" text-anchor="middle">43</text><text x="787.05" y="3774" font-size="45" font-weight="bold" text-anchor="middle">45</text><text x="904.13" y="3774" font-size="45" font-weight="bold" text-anchor="middle">47</text><text x="1021.21" y="3774" font-size="45" font-weight="bold" text-anchor="middle">49</text><text x="1138.28" y="3774" font-size="45" font-weight="bold" text-anchor="middle">51</text><text x="1255.36" y="3774" font-size="45" font-weight="bold" text-anchor="middle">1</text><text x="1372.44" y="3774" font-size="45" font-weight="bold" text-anchor="middle">3</text><text x="1489.52" y="3774" font-size="45" font-weight="bold" text-anchor="middle">5</text><text x="1606.59" y="3774" font-size="45" font-weight="bold" text-anchor="middle">7</text><text x="1723.67" y="3774" font-size="45" font-weight="bold" text-anchor="middle">9</text><text x="1840.75" y="3774" font-size="45" font-weight="bold" text-anchor="middle">11</text><text x="1957.82" y="3774" font-size="45" font-weight="bold" text-anchor="middle">13</text><text x="2074.9" y="3774" font-size="45" font-weight="bold" text-anchor="middle">15</text><text x="2191.98" y="3774" font-size="45" font-weight="bold" text-anchor="middle">17</text><text x="2309.05" y="3774" font-size="45" font-weight="bold" text-anchor="middle">19</text><text x="2426.13" y="3774" font-size="45" font-weight="bold" text-anchor="middle">21</text><text x="2543.21" y="3774" font-size="45" font-weight="bold" text-anchor="middle">23</text><text x="2660.28" y="3774" font-size="45" font-weight="bold" text-anchor="middle">25</text><text x="2777.36" y="3774" font-size="45" font-weight="bold" text-anchor="middle">27</text><text x="2894.44" y="3774" font-size="45" font-weight="bold" text-anchor="middle">29</text><text x="3011.52" y="3774" font-size="45" font-weight="bold" text-anchor="middle">31</text><text x="3128.59" y="3774" font-size="45" font-weight="bold" text-anchor="middle">33</text><rect x="174.65" y="3684.7" width="54.04" height="20.5" fill="#CCECFF" stroke="#000" stroke-width="4.9" stroke-linejoin="round"/><rect x="233.19" y="3685.5" width="54.04" height="19.7" fill="#CCECFF" stroke="#000" stroke-width="4.9" stroke-linejoin="round"/><rect x="291.73" y="3679.4" width="54.04" height="25.8" fill="#CCECFF" stroke="#000" stroke-width="4.9" stroke-linejoin="round"/><rect x="350.27" y="3678.2" width="54.04" height="27" fill="#CCECFF" stroke="#000" stroke-width="4.9" stroke-linejoin="round"/><rect x="408.8" y="3672.5" width="54.04" height="32.7" fill="#CCECFF" stroke="#000" stroke-width="4.9" stroke-linejoin="round"/><rect x="467.34" y="3669.2" width="54.04" height="36" fill="#CCECFF" stroke="#000" stroke-width="4.9" stroke-linejoin="round"/><rect x="525.88" y="3669.2" width="54.04" height="36" fill="#CCECFF" stroke="#000" stroke-width="4.9" stroke-linejoin="round"/><rect x="584.42" y="3672.5" width="54.04" height="32.7" fill="#CCECFF" stroke="#000" stroke-width="4.9" stroke-linejoin="round"/><rect x="642.96" y="3677.4" width="54.04" height="27.8" fill="#CCECFF" stroke="#000" stroke-width="4.9" stroke-linejoin="round"/><rect x="701.5" y="3672.5" width="54.04" height="32.7" fill="#CCECFF" stroke="#000" stroke-width="4.9" stroke-linejoin="round"/><rect x="760.03" y="3673.6" width="54.04" height="31.6" fill="#CCECFF" stroke="#000" stroke-width="4.9" stroke-linejoin="round"/><rect x="818.57" y="3674.8" width="54.04" height="30.4" fill="#CCECFF" stroke="#000" stroke-width="4.9" stroke-linejoin="round"/><rect x="877.11" y="3672.7" width="54.04" height="32.5" fill="#CCECFF" stroke="#000" stroke-width="4.9" stroke-linejoin="round"/><rect x="935.65" y="3669.8" width="54.04" height="35.4" fill="#CCECFF" stroke="#000" stroke-width="4.9" stroke-linejoin="round"/><rect x="994.19" y="3673.2" width="54.04" height="32" fill="#CCECFF" stroke="#000" stroke-width="4.9" stroke-linejoin="round"/><rect x="1052.73" y="3664" width="54.04" height="41.2" fill="#CCECFF" stroke="#000" stroke-width="4.9" stroke-linejoin="round"/><rect x="1111.27" y="3661.9" width="54.04" height="43.3" fill="#CCECFF" stroke="#000" stroke-width="4.9" stroke-linejoin="round"/><rect x="1169.8" y="3655.6" width="54.04" height="49.6" fill="#CCECFF" stroke="#000" stroke-width="4.9" stroke-linejoin="round"/><rect x="1228.34" y="3654.3" width="54.04" height="50.9" fill="#CCECFF" stroke="#000" stroke-width="4.9" stroke-linejoin="round"/><rect x="1286.88" y="3661" width="54.04" height="44.2" fill="#CCECFF" stroke="#000" stroke-width="4.9" stroke-linejoin="round"/><rect x="1345.42" y="3665.6" width="54.04" height="39.6" fill="#CCECFF" stroke="#000" stroke-width="4.9" stroke-linejoin="round"/><rect x="1403.96" y="3671.1" width="54.04" height="34.1" fill="#CCECFF" stroke="#000" stroke-width="4.9" stroke-linejoin="round"/><polyline points="201.67,3701.7 260.21,3701.7 318.75,3700.5 377.28,3699.7 435.82,3698.5 494.36,3697.3 552.9,3694.4 611.44,3692.4 669.98,3688.3 728.52,3681.4 787.05,3670.9 845.59,3663.5 904.13,3654.7 962.67,3641.8 1021.21,3616.6 1079.75,3615.4 1138.28,3616.2 1196.82,3615.4 1255.36,3612 1313.9,3631.3 1372.44,3640.5 1430.98,3620.4" fill="none" stroke="#D00000" stroke-width="4.2" stroke-linejoin="round"/><path d="M201.67 3690.1L213.27 3701.7L201.67 3713.3L190.07 3701.7ZM260.21 3690.1L271.81 3701.7L260.21 3713.3L248.61 3701.7ZM318.75 3688.9L330.35 3700.5L318.75 3712.1L307.15 3700.5ZM377.28 3688.1L388.88 3699.7L377.28 3711.3L365.68 3699.7ZM435.82 3686.9L447.42 3698.5L435.82 3710.1L424.22 3698.5ZM494.36 3685.7L505.96 3697.3L494.36 3708.9L482.76 3697.3ZM552.9 3682.8L564.5 3694.4L552.9 3706L541.3 3694.4ZM611.44 3680.8L623.04 3692.4L611.44 3704L599.84 3692.4ZM669.98 3676.7L681.58 3688.3L669.98 3699.9L658.38 3688.3ZM728.52 3669.8L740.12 3681.4L728.52 3693L716.92 3681.4ZM787.05 3659.3L798.65 3670.9L787.05 3682.5L775.45 3670.9ZM845.59 3651.9L857.19 3663.5L845.59 3675.1L833.99 3663.5ZM904.13 3643.1L915.73 3654.7L904.13 3666.3L892.53 3654.7ZM962.67 3630.2L974.27 3641.8L962.67 3653.4L951.07 3641.8ZM1021.21 3605L1032.81 3616.6L1021.21 3628.2L1009.61 3616.6ZM1079.75 3603.8L1091.35 3615.4L1079.75 3627L1068.15 3615.4ZM1138.28 3604.6L1149.88 3616.2L1138.28 3627.8L1126.68 3616.2ZM1196.82 3603.8L1208.42 3615.4L1196.82 3627L1185.22 3615.4ZM1255.36 3600.4L1266.96 3612L1255.36 3623.6L1243.76 3612ZM1313.9 3619.7L1325.5 3631.3L1313.9 3642.9L1302.3 3631.3ZM1372.44 3628.9L1384.04 3640.5L1372.44 3652.1L1360.84 3640.5ZM1430.98 3608.8L1442.58 3620.4L1430.98 3632L1419.38 3620.4Z" fill="#D00000" stroke="#D00000" stroke-width="2.4" stroke-linejoin="round"/></g>
<g><text x="1658.5" y="3894.7" font-size="55" font-weight="bold" text-anchor="middle">Territories (Terr)</text><path d="M172.4 3865.1V4313.5M3216.4 3865.1V4313.5M172.4 4313.5H3216.4" stroke="#000" stroke-width="1.5" fill="none"/><path d="M159.4 4313.5H184.9M3203.4 4313.5H3228.9M159.4 4223.82H184.9M3203.4 4223.82H3228.9M159.4 4134.14H184.9M3203.4 4134.14H3228.9M159.4 4044.46H184.9M3203.4 4044.46H3228.9M159.4 3954.78H184.9M3203.4 3954.78H3228.9M159.4 3865.1H184.9M3203.4 3865.1H3228.9M172.4 4299.5V4327.5M230.94 4299.5V4327.5M289.48 4299.5V4327.5M348.02 4299.5V4327.5M406.55 4299.5V4327.5M465.09 4299.5V4327.5M523.63 4299.5V4327.5M582.17 4299.5V4327.5M640.71 4299.5V4327.5M699.25 4299.5V4327.5M757.78 4299.5V4327.5M816.32 4299.5V4327.5M874.86 4299.5V4327.5M933.4 4299.5V4327.5M991.94 4299.5V4327.5M1050.48 4299.5V4327.5M1109.02 4299.5V4327.5M1167.55 4299.5V4327.5M1226.09 4299.5V4327.5M1284.63 4299.5V4327.5M1343.17 4299.5V4327.5M1401.71 4299.5V4327.5M1460.25 4299.5V4327.5M1518.78 4299.5V4327.5M1577.32 4299.5V4327.5M1635.86 4299.5V4327.5M1694.4 4299.5V4327.5M1752.94 4299.5V4327.5M1811.48 4299.5V4327.5M1870.02 4299.5V4327.5M1928.55 4299.5V4327.5M1987.09 4299.5V4327.5M2045.63 4299.5V4327.5M2104.17 4299.5V4327.5M2162.71 4299.5V4327.5M2221.25 4299.5V4327.5M2279.78 4299.5V4327.5M2338.32 4299.5V4327.5M2396.86 4299.5V4327.5M2455.4 4299.5V4327.5M2513.94 4299.5V4327.5M2572.48 4299.5V4327.5M2631.02 4299.5V4327.5M2689.55 4299.5V4327.5M2748.09 4299.5V4327.5M2806.63 4299.5V4327.5M2865.17 4299.5V4327.5M2923.71 4299.5V4327.5M2982.25 4299.5V4327.5M3040.78 4299.5V4327.5M3099.32 4299.5V4327.5M3157.86 4299.5V4327.5M3216.4 4299.5V4327.5" stroke="#000" stroke-width="1.5" fill="none"/><text x="136.4" y="4325.1" font-size="41" font-weight="bold" text-anchor="end">0</text><text x="3252.4" y="4325.5" font-size="41" font-weight="bold">0</text><text x="136.4" y="4235.42" font-size="41" font-weight="bold" text-anchor="end">10000</text><text x="3252.4" y="4235.82" font-size="41" font-weight="bold">10</text><text x="136.4" y="4145.74" font-size="41" font-weight="bold" text-anchor="end">20000</text><text x="3252.4" y="4146.14" font-size="41" font-weight="bold">20</text><text x="136.4" y="4056.06" font-size="41" font-weight="bold" text-anchor="end">30000</text><text x="3252.4" y="4056.46" font-size="41" font-weight="bold">30</text><text x="136.4" y="3966.38" font-size="41" font-weight="bold" text-anchor="end">40000</text><text x="3252.4" y="3966.78" font-size="41" font-weight="bold">40</text><text x="136.4" y="3876.7" font-size="41" font-weight="bold" text-anchor="end">50000</text><text x="3252.4" y="3877.1" font-size="41" font-weight="bold">50</text><text x="201.67" y="4382.3" font-size="45" font-weight="bold" text-anchor="middle">35</text><text x="318.75" y="4382.3" font-size="45" font-weight="bold" text-anchor="middle">37</text><text x="435.82" y="4382.3" font-size="45" font-weight="bold" text-anchor="middle">39</text><text x="552.9" y="4382.3" font-size="45" font-weight="bold" text-anchor="middle">41</text><text x="669.98" y="4382.3" font-size="45" font-weight="bold" text-anchor="middle">43</text><text x="787.05" y="4382.3" font-size="45" font-weight="bold" text-anchor="middle">45</text><text x="904.13" y="4382.3" font-size="45" font-weight="bold" text-anchor="middle">47</text><text x="1021.21" y="4382.3" font-size="45" font-weight="bold" text-anchor="middle">49</text><text x="1138.28" y="4382.3" font-size="45" font-weight="bold" text-anchor="middle">51</text><text x="1255.36" y="4382.3" font-size="45" font-weight="bold" text-anchor="middle">1</text><text x="1372.44" y="4382.3" font-size="45" font-weight="bold" text-anchor="middle">3</text><text x="1489.52" y="4382.3" font-size="45" font-weight="bold" text-anchor="middle">5</text><text x="1606.59" y="4382.3" font-size="45" font-weight="bold" text-anchor="middle">7</text><text x="1723.67" y="4382.3" font-size="45" font-weight="bold" text-anchor="middle">9</text><text x="1840.75" y="4382.3" font-size="45" font-weight="bold" text-anchor="middle">11</text><text x="1957.82" y="4382.3" font-size="45" font-weight="bold" text-anchor="middle">13</text><text x="2074.9" y="4382.3" font-size="45" font-weight="bold" text-anchor="middle">15</text><text x="2191.98" y="4382.3" font-size="45" font-weight="bold" text-anchor="middle">17</text><text x="2309.05" y="4382.3" font-size="45" font-weight="bold" text-anchor="middle">19</text><text x="2426.13" y="4382.3" font-size="45" font-weight="bold" text-anchor="middle">21</text><text x="2543.21" y="4382.3" font-size="45" font-weight="bold" text-anchor="middle">23</text><text x="2660.28" y="4382.3" font-size="45" font-weight="bold" text-anchor="middle">25</text><text x="2777.36" y="4382.3" font-size="45" font-weight="bold" text-anchor="middle">27</text><text x="2894.44" y="4382.3" font-size="45" font-weight="bold" text-anchor="middle">29</text><text x="3011.52" y="4382.3" font-size="45" font-weight="bold" text-anchor="middle">31</text><text x="3128.59" y="4382.3" font-size="45" font-weight="bold" text-anchor="middle">33</text><rect x="174.65" y="4312.5" width="54.04" height="1" fill="#CCECFF" stroke="#000" stroke-width="4.9" stroke-linejoin="round"/><rect x="233.19" y="4312.5" width="54.04" height="1" fill="#CCECFF" stroke="#000" stroke-width="4.9" stroke-linejoin="round"/><rect x="291.73" y="4312.5" width="54.04" height="1" fill="#CCECFF" stroke="#000" stroke-width="4.9" stroke-linejoin="round"/><rect x="350.27" y="4312.5" width="54.04" height="1" fill="#CCECFF" stroke="#000" stroke-width="4.9" stroke-linejoin="round"/><rect x="408.8" y="4312.5" width="54.04" height="1" fill="#CCECFF" stroke="#000" stroke-width="4.9" stroke-linejoin="round"/><rect x="467.34" y="4312.5" width="54.04" height="1" fill="#CCECFF" stroke="#000" stroke-width="4.9" stroke-linejoin="round"/><rect x="525.88" y="4312.5" width="54.04" height="1" fill="#CCECFF" stroke="#000" stroke-width="4.9" stroke-linejoin="round"/><rect x="584.42" y="4312.5" width="54.04" height="1" fill="#CCECFF" stroke="#000" stroke-width="4.9" stroke-linejoin="round"/><rect x="642.96" y="4312.5" width="54.04" height="1" fill="#CCECFF" stroke="#000" stroke-width="4.9" stroke-linejoin="round"/><rect x="701.5" y="4312.5" width="54.04" height="1" fill="#CCECFF" stroke="#000" stroke-width="4.9" stroke-linejoin="round"/><rect x="760.03" y="4312.3" width="54.04" height="1.2" fill="#CCECFF" stroke="#000" stroke-width="4.9" stroke-linejoin="round"/><rect x="818.57" y="4312.3" width="54.04" height="1.2" fill="#CCECFF" stroke="#000" stroke-width="4.9" stroke-linejoin="round"/><rect x="877.11" y="4312.3" width="54.04" height="1.2" fill="#CCECFF" stroke="#000" stroke-width="4.9" stroke-linejoin="round"/><rect x="935.65" y="4311.8" width="54.04" height="1.7" fill="#CCECFF" stroke="#000" stroke-width="4.9" stroke-linejoin="round"/><rect x="994.19" y="4311.5" width="54.04" height="2" fill="#CCECFF" stroke="#000" stroke-width="4.9" stroke-linejoin="round"/><rect x="1052.73" y="4311.5" width="54.04" height="2" fill="#CCECFF" stroke="#000" stroke-width="4.9" stroke-linejoin="round"/><rect x="1111.27" y="4311.5" width="54.04" height="2" fill="#CCECFF" stroke="#000" stroke-width="4.9" stroke-linejoin="round"/><rect x="1169.8" y="4311.5" width="54.04" height="2" fill="#CCECFF" stroke="#000" stroke-width="4.9" stroke-linejoin="round"/><rect x="1228.34" y="4311.5" width="54.04" height="2" fill="#CCECFF" stroke="#000" stroke-width="4.9" stroke-linejoin="round"/><rect x="1286.88" y="4311.8" width="54.04" height="1.7" fill="#CCECFF" stroke="#000" stroke-width="4.9" stroke-linejoin="round"/><rect x="1345.42" y="4312" width="54.04" height="1.5" fill="#CCECFF" stroke="#000" stroke-width="4.9" stroke-linejoin="round"/><rect x="1403.96" y="4312" width="54.04" height="1.5" fill="#CCECFF" stroke="#000" stroke-width="4.9" stroke-linejoin="round"/><polyline points="201.67,4303 260.21,4312.8 318.75,4312.8 377.28,4312.8 435.82,4312.8 494.36,4312.8 552.9,4312.8 611.44,4312.8 669.98,4312.8 728.52,4288.8 787.05,4256.3 845.59,4247.2 904.13,4210.8 962.67,4235 1021.21,4252.6 1079.75,4219.1 1138.28,4258.1 1196.82,4172.2 1255.36,4189.8 1313.9,4155.1 1372.44,4134.1 1430.98,4097.7" fill="none" stroke="#D00000" stroke-width="4.2" stroke-linejoin="round"/><path d="M201.67 4291.4L213.27 4303L201.67 4314.6L190.07 4303ZM260.21 4301.2L271.81 4312.8L260.21 4324.4L248.61 4312.8ZM318.75 4301.2L330.35 4312.8L318.75 4324.4L307.15 4312.8ZM377.28 4301.2L388.88 4312.8L377.28 4324.4L365.68 4312.8ZM435.82 4301.2L447.42 4312.8L435.82 4324.4L424.22 4312.8ZM494.36 4301.2L505.96 4312.8L494.36 4324.4L482.76 4312.8ZM552.9 4301.2L564.5 4312.8L552.9 4324.4L541.3 4312.8ZM611.44 4301.2L623.04 4312.8L611.44 4324.4L599.84 4312.8ZM669.98 4301.2L681.58 4312.8L669.98 4324.4L658.38 4312.8ZM728.52 4277.2L740.12 4288.8L728.52 4300.4L716.92 4288.8ZM787.05 4244.7L798.65 4256.3L787.05 4267.9L775.45 4256.3ZM845.59 4235.6L857.19 4247.2L845.59 4258.8L833.99 4247.2ZM904.13 4199.2L915.73 4210.8L904.13 4222.4L892.53 4210.8ZM962.67 4223.4L974.27 4235L962.67 4246.6L951.07 4235ZM1021.21 4241L1032.81 4252.6L1021.21 4264.2L1009.61 4252.6ZM1079.75 4207.5L1091.35 4219.1L1079.75 4230.7L1068.15 4219.1ZM1138.28 4246.5L1149.88 4258.1L1138.28 4269.7L1126.68 4258.1ZM1196.82 4160.6L1208.42 4172.2L1196.82 4183.8L1185.22 4172.2ZM1255.36 4178.2L1266.96 4189.8L1255.36 4201.4L1243.76 4189.8ZM1313.9 4143.5L1325.5 4155.1L1313.9 4166.7L1302.3 4155.1ZM1372.44 4122.5L1384.04 4134.1L1372.44 4145.7L1360.84 4134.1ZM1430.98 4086.1L1442.58 4097.7L1430.98 4109.3L1419.38 4097.7Z" fill="#D00000" stroke="#D00000" stroke-width="2.4" stroke-linejoin="round"/></g>
<text x="748.8" y="4495" font-size="64.5" font-weight="bold">2023</text>
<text x="1231" y="4495" font-size="64" font-weight="bold">Surveillance Week</text>
<text x="2078.2" y="4495" font-size="64" font-weight="bold">2024</text>
<rect x="829.3" y="4586.3" width="88.5" height="31.8" fill="#CCECFF" stroke="#000" stroke-width="4.4" stroke-linejoin="round"/>
<text x="926.2" y="4623" font-size="64.5" font-weight="bold">Number of RSV Tests</text>
<path d="M1702 4602.4H1791" stroke="#D00000" stroke-width="4.3" stroke-linecap="round"/>
<path d="M1746.8 4591.4L1757.8 4602.4L1746.8 4613.4L1735.8 4602.4Z" fill="#D00000" stroke="#D00000" stroke-width="3" stroke-linejoin="round"/>
<text x="1801.7" y="4623" font-size="64.4" font-weight="bold">% RSV Tests Positive</text>
</svg>
</body></html>
